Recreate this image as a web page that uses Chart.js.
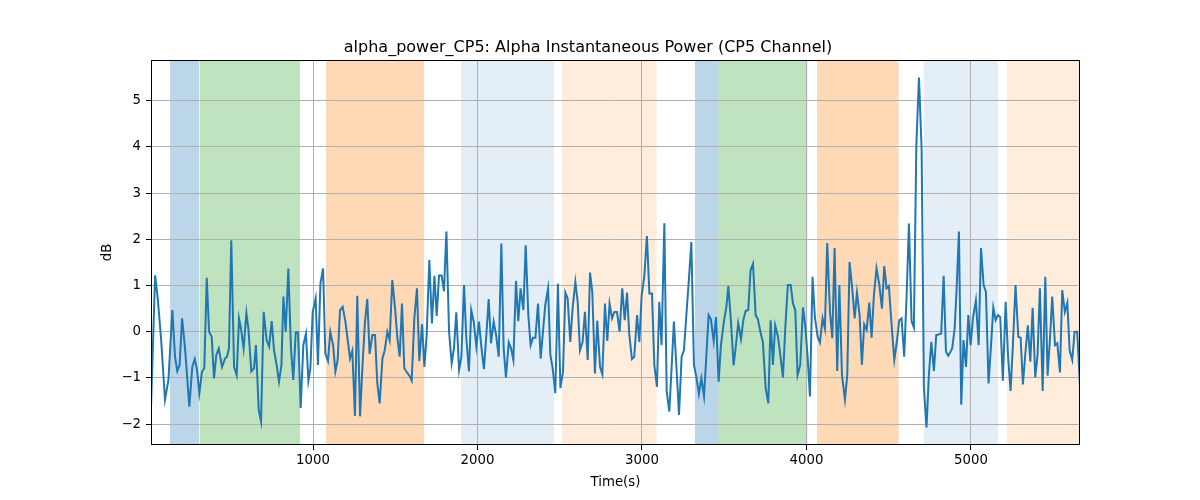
<!DOCTYPE html>
<html>
<head>
<meta charset="utf-8">
<script src="https://cdn.jsdelivr.net/npm/chart.js@4/dist/chart.umd.min.js"></script>
<style>
  html, body { margin: 0; padding: 0; background: #fff; }
  #wrap { width: 1200px; height: 500px; }
</style>
</head>
<body>
<div id="wrap"><canvas id="chart"></canvas></div>
<script>
const chartTitle = "alpha_power_CP5: Alpha Instantaneous Power (CP5 Channel)";
const xLabel = "Time(s)";
const yLabel = "dB";

// sample times (s)
const times = [
  15, 40, 56, 76, 100, 121, 145, 161, 175, 189, 204, 222, 248, 266, 281, 295, 309, 325, 339, 354,
  368, 384, 398, 412, 427, 447, 465, 477, 489, 503, 520, 536, 550, 562, 578, 595, 607, 625, 641, 653,
  670, 684, 700, 718, 733, 749, 763, 779, 793, 808, 820, 834, 850, 866, 880, 895, 909, 925, 941, 957,
  972, 984, 998, 1016, 1030, 1045, 1061, 1075, 1091, 1105, 1122, 1136, 1150, 1164, 1180, 1197, 1211, 1225, 1239, 1255,
  1269, 1286, 1302, 1316, 1330, 1344, 1361, 1377, 1391, 1405, 1422, 1436, 1452, 1466, 1482, 1499, 1513, 1527, 1541, 1555,
  1571, 1586, 1600, 1616, 1632, 1646, 1663, 1677, 1691, 1707, 1723, 1738, 1752, 1766, 1782, 1796, 1811, 1827, 1843, 1857,
  1871, 1888, 1902, 1918, 1932, 1948, 1962, 1977, 1993, 2009, 2023, 2039, 2054, 2068, 2082, 2098, 2113, 2129, 2145, 2159,
  2173, 2190, 2204, 2218, 2234, 2248, 2262, 2279, 2293, 2309, 2323, 2337, 2352, 2368, 2384, 2398, 2412, 2429, 2443, 2457,
  2473, 2489, 2504, 2520, 2534, 2548, 2564, 2578, 2595, 2609, 2623, 2639, 2653, 2670, 2684, 2698, 2714, 2728, 2745, 2759,
  2775, 2789, 2803, 2818, 2832, 2848, 2864, 2880, 2895, 2909, 2923, 2939, 2953, 2970, 2984, 2998, 3014, 3030, 3045, 3061,
  3075, 3091, 3105, 3119, 3136, 3150, 3166, 3180, 3194, 3211, 3225, 3241, 3255, 3269, 3286, 3300, 3316, 3330, 3346, 3361,
  3377, 3391, 3405, 3419, 3436, 3450, 3466, 3480, 3498, 3513, 3525, 3541, 3557, 3571, 3585, 3602, 3616, 3630, 3646, 3660,
  3675, 3691, 3705, 3719, 3735, 3752, 3768, 3782, 3796, 3810, 3827, 3841, 3857, 3871, 3887, 3904, 3918, 3932, 3946, 3962,
  3979, 3993, 4007, 4021, 4037, 4051, 4068, 4082, 4098, 4112, 4126, 4143, 4157, 4171, 4187, 4200, 4216, 4234, 4248, 4262,
  4278, 4293, 4307, 4323, 4337, 4351, 4366, 4382, 4396, 4410, 4426, 4443, 4459, 4473, 4487, 4501, 4517, 4534, 4550, 4564,
  4578, 4594, 4609, 4623, 4639, 4653, 4668, 4684, 4700, 4714, 4730, 4744, 4759, 4775, 4789, 4803, 4819, 4834, 4848, 4862,
  4876, 4886, 4901, 4913, 4927, 4941, 4955, 4970, 4984, 4998, 5012, 5030, 5047, 5061, 5077, 5091, 5107, 5122, 5136, 5150,
  5164, 5178, 5194, 5211, 5225, 5241, 5255, 5271, 5288, 5302, 5316, 5330, 5346, 5361, 5375, 5391, 5405, 5419, 5436, 5452,
  5466, 5480, 5494, 5511, 5525, 5541, 5555, 5571, 5586, 5600, 5616, 5630, 5646, 5663
];

// alpha power (dB)
const power = [
  -1.65, 1.22, 0.72, -0.14, -1.47, -1.04, 0.47, -0.54, -0.85, -0.72, 0.29, -0.36, -1.62, -0.76, -0.59, -0.83, -1.33, -0.86, -0.79, 1.17,
  0, -0.11, -1.01, -0.5, -0.36, -0.76, -0.58, -0.54, -0.36, 1.98, -0.76, -0.94, 0.29, 0.07, -0.36, 0.41, 0.07, -0.86, -0.79, -0.29,
  -1.69, -1.94, 0.43, -0.18, -0.32, 0.23, -0.40, -0.72, -1.08, -0.72, 0.76, 0, 1.37, -0.36, -1.04, -0.01, -0.01, -1.65, -0.29, -0.04,
  -1.06, -0.79, 0.43, 0.72, -0.72, 1.04, 1.37, -0.47, -0.63, 0, -0.29, -0.86, -0.61, 0.47, 0.54, 0.22, -0.18, -0.58, -0.41, -1.82,
  0.78, -1.83, -0.65, 0.22, 0.71, -0.48, -0.07, -0.07, -1.12, -1.55, -0.58, -0.40, 0, -0.18, 1.12, 0.50, -0.14, -0.54, 0.61, -0.79,
  -0.88, -0.95, -1.06, 0.29, 0.94, -0.63, 0.16, -0.76, -0.07, 1.55, 0.18, 1.21, 0.34, 1.22, 1.22, 0.88, 2.17, 0, -0.68, -0.36,
  0.42, -0.83, -0.54, 1.01, -0.14, -0.86, 0.47, 0.22, -0.32, 0.22, -0.31, -0.81, -0.06, 0.71, -0.25, 0.22, -0.07, -0.54, 1.91, -0.36,
  -0.99, -0.23, -0.36, -0.61, 1.10, 0.23, 0.94, 0.47, 1.87, 0.36, -0.29, -0.13, -0.13, 0.61, -0.58, 0, 0.58, 0.94, -0.50, -0.79,
  -1.33, 1.04, -1.22, -0.86, 0.85, 0.72, -0.22, 0.50, 1.08, 0.65, -0.40, -0.22, 0.43, -0.61, 1.28, 0.86, -0.90, 0.24, -0.76, -0.92,
  0.61, -0.20, 0.61, 0.29, 0.43, 0.43, 0, 0.94, 0.25, 0.85, -0.07, -0.59, -0.54, 0.36, -0.22, 0.79, 1.19, 2.07, 0.83, 0.83,
  -0.72, -1.19, 0.65, -0.29, 2.35, -1.29, -1.73, -0.79, 0.22, -0.86, -1.80, -0.54, -0.40, 0.32, 1.17, 1.94, -0.72, -0.97, -1.35, -1.01,
  -1.40, -0.54, 0.36, 0.27, -0.20, 0.32, -1.08, -0.29, 0.22, 0.54, 0.99, 0.22, -0.73, -0.29, 0.19, -0.16, 0.25, 0.45, 0.47, 1.33,
  1.47, 0.36, 0.27, 0.01, -0.22, -1.22, -1.55, 0.25, -0.72, 0.14, -0.11, -0.50, -0.99, 0.07, 1.01, 1.01, 0.61, 0.47, -0.94, -0.72,
  0.53, 0.11, -0.54, -1.40, 1.19, 0.32, -0.11, -0.23, 0.29, 0.07, 1.92, 0.43, -0.14, 1.81, -0.85, 1.01, -0.94, -1.47, -0.94, 1.51,
  0.94, 0.29, 0.85, 0.36, -0.72, 0.16, 0.04, 0.63, -0.13, 0.79, 1.37, 1.02, 0.50, 1.42, 0.94, 0.99, 0.18, -0.61, -0.20, 0.25,
  0.29, -0.54, 0.79, 2.34, 0.23, 0.09, 4.03, 5.50, 3.96, -1.22, -2.07, -0.94, -0.22, -0.85, -0.07, -0.06, -0.04, 1.21, -0.43, -0.52,
  -0.43, -0.36, 0.07, 0.94, 2.17, -1.58, -0.18, -0.76, 0.36, -0.29, 0.29, 0.68, -0.29, 1.81, 1.01, 0.86, -1.12, -0.29, 0.52, 0.25,
  0.36, 0.32, -1.06, 0.65, -0.50, -1.28, -0.29, 1.01, -0.11, -0.13, -1.14, -0.50, 0.14, -0.65, 0.52, -0.99, -0.50, 0.94, -1.28, 1.19,
  -0.95, -0.18, 0.76, -0.29, -0.25, -0.88, 0.90, 0.43, 0.63, -0.40, -0.61, 0, 0, -1.19
];

// shaded segments
const bandStarts = [131, 311, 1079, 1900, 2514, 3322, 3464, 4064, 4714, 5219];
const bandEnds   = [307, 921, 1675, 2465, 3089, 3464, 4005, 4560, 5164, 5663];
const bandColors = [
  "rgba(31,119,180,0.3)", "rgba(44,160,44,0.3)", "rgba(255,127,14,0.3)", "rgba(31,119,180,0.12)", "rgba(255,127,14,0.15)",
  "rgba(31,119,180,0.3)", "rgba(44,160,44,0.3)", "rgba(255,127,14,0.3)", "rgba(31,119,180,0.12)", "rgba(255,127,14,0.15)"
];

const xTicks = [1000, 2000, 3000, 4000, 5000];
const yTicks = [-2, -1, 0, 1, 2, 3, 4, 5];

const FONT = "'DejaVu Sans', sans-serif";

function fmt(v) {
  return v < 0 ? "\u2212" + Math.abs(v) : String(v);
}

const bandsPlugin = {
  id: "bands",
  beforeDraw(chart) {
    const { ctx, chartArea, scales } = chart;
    ctx.save();
    ctx.beginPath();
    ctx.rect(chartArea.left, chartArea.top, chartArea.right - chartArea.left, chartArea.bottom - chartArea.top);
    ctx.clip();
    for (let i = 0; i < bandStarts.length; i++) {
      const x0 = scales.x.getPixelForValue(bandStarts[i]);
      const x1 = scales.x.getPixelForValue(bandEnds[i]);
      ctx.fillStyle = bandColors[i];
      ctx.fillRect(x0, chartArea.top, x1 - x0, chartArea.bottom - chartArea.top);
    }
    ctx.restore();
  },
  afterDatasetsDraw(chart) {
    const { ctx, chartArea } = chart;
    ctx.save();
    ctx.strokeStyle = "#000";
    ctx.lineWidth = 1;
    ctx.strokeRect(Math.round(chartArea.left) + 0.5, Math.round(chartArea.top) + 0.5,
      Math.round(chartArea.right - chartArea.left) - 1, Math.round(chartArea.bottom - chartArea.top) - 1);
    ctx.restore();
  }
};

new Chart(document.getElementById("chart").getContext("2d"), {
  type: "line",
  plugins: [bandsPlugin],
  data: {
    datasets: [
      {
        label: "alpha_power_CP5",
        data: times.map((t, i) => ({ x: t, y: power[i] })),
        borderColor: "#1f77b4",
        borderWidth: 2,
        pointRadius: 0,
        tension: 0,
        fill: false,
      },
    ],
  },
  options: {
    responsive: true,
    maintainAspectRatio: false,
    animation: false,
    layout: { padding: { left: 96, right: 120, top: 38, bottom: 0 } },
    plugins: {
      legend: { display: false },
      tooltip: { enabled: false },
      title: {
        display: true,
        text: chartTitle,
        color: "#000",
        font: { family: FONT, size: 16, weight: "normal" },
        padding: { top: 0, bottom: 2.8 },
      },
    },
    scales: {
      x: {
        type: "linear",
        min: times[0],
        max: times[times.length - 1],
        afterFit(scale) { scale.height = 55; },
        afterBuildTicks(scale) { scale.ticks = xTicks.map(v => ({ value: v })); },
        ticks: {
          color: "#000",
          font: { family: FONT, size: 13.3 },
          padding: 3,
          maxRotation: 0,
          callback: v => fmt(v),
        },
        grid: { color: "#b0b0b0", lineWidth: 1, tickColor: "#000", tickLength: 5 },
        border: { display: false },
        title: {
          display: true,
          text: xLabel,
          color: "#000",
          font: { family: FONT, size: 13.3 },
          padding: { top: 0, bottom: 9 },
        },
      },
      y: {
        type: "linear",
        min: -2.45,
        max: 5.88,
        afterFit(scale) { scale.width = 55; },
        afterBuildTicks(scale) { scale.ticks = yTicks.map(v => ({ value: v })); },
        ticks: {
          color: "#000",
          font: { family: FONT, size: 13.3 },
          padding: 5,
          callback: v => fmt(v),
        },
        grid: { color: "#b0b0b0", lineWidth: 1, tickColor: "#000", tickLength: 5 },
        border: { display: false },
        title: {
          display: true,
          text: yLabel,
          color: "#000",
          font: { family: FONT, size: 13.3 },
          padding: { top: 4, bottom: 0 },
        },
      },
    },
  },
});
</script>
</body>
</html>
